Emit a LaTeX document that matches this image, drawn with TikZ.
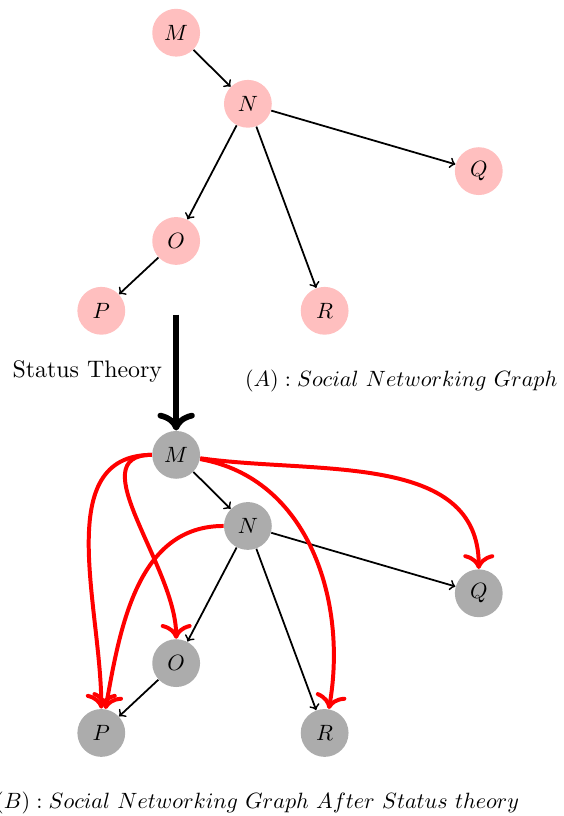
\documentclass[tikz,border=0pt]{standalone}
\usetikzlibrary{positioning,arrows.meta}

\begin{document}
\begin{tikzpicture}[
    >=to,
    node distance=1cm, on grid,
    person/.style={circle, minimum size=7.6mm, inner sep=0pt},
    orig/.style={person, fill=red!25},
    after/.style={person, fill=gray!65},
    edge/.style={->, line width=0.8pt},
    rel/.style={-{To[scale=1.2]}, draw=red, line width=1.8pt},
    theory/.style={-{To[scale=1.1]}, line width=2.6pt},
]

\useasboundingbox (-2.80,0.52) rectangle (6.15,-12.45);

% ---- Graph (A) -----------------------------------------------------
\node[orig] (mA) at (0,0) {$M$};
\node[orig, below right=1.13cm and 1.14cm of mA] (nA) {$N$};
\node[orig, below right=1.07cm and 3.67cm of nA] (qA) {$Q$};
\node[orig, below left=2.18cm and 1.14cm of nA] (oA) {$O$};
\node[orig, below left=1.11cm and 1.19cm of oA] (pA) {$P$};
\node[orig, below right=3.29cm and 1.22cm of nA] (rA) {$R$};

\draw[edge] (mA) -- (nA);
\draw[edge] (nA) -- (qA);
\draw[edge] (nA) -- (oA);
\draw[edge] (nA) -- (rA);
\draw[edge] (oA) -- (pA);

% ---- Graph (B) -----------------------------------------------------
\node[after, below=6.71cm of mA] (mB) {$M$};
\node[after, below right=1.13cm and 1.14cm of mB] (nB) {$N$};
\node[after, below right=1.07cm and 3.67cm of nB] (qB) {$Q$};
\node[after, below left=2.18cm and 1.14cm of nB] (oB) {$O$};
\node[after, below left=1.11cm and 1.19cm of oB] (pB) {$P$};
\node[after, below right=3.29cm and 1.22cm of nB] (rB) {$R$};

\draw[edge] (mB) -- (nB);
\draw[edge] (nB) -- (qB);
\draw[edge] (nB) -- (oB);
\draw[edge] (nB) -- (rB);
\draw[edge] (oB) -- (pB);

% ---- Status theory edges -------------------------------------------
\draw[rel] (mB) to[out=180,in=90] (pB);
\draw[rel] (mB) to[out=180,in=90] (oB);
\draw[rel] (nB) to[out=180,in=80] (pB);
\draw[rel] (mB) to[out=-10,in=80] (rB);
\draw[rel] (mB) to[out=-8,in=90] (qB);

% ---- Transition + captions -----------------------------------------
\coordinate[below=4.48cm of mA] (start);
\draw[theory] (start) -- (mB);

\node[anchor=east, font=\fontsize{10.8}{13}\selectfont] (stlbl) at (-0.10,-5.38) {Status Theory};
\node[anchor=west] (capA) at (0.97,-5.53) {$(A) : Social\ Networking\ Graph$};
\node[anchor=west] (capB) at (-3.0,-12.24) {$(B) : Social\ Networking\ Graph\ After\ Status\ theory$};

\end{tikzpicture}
\end{document}
